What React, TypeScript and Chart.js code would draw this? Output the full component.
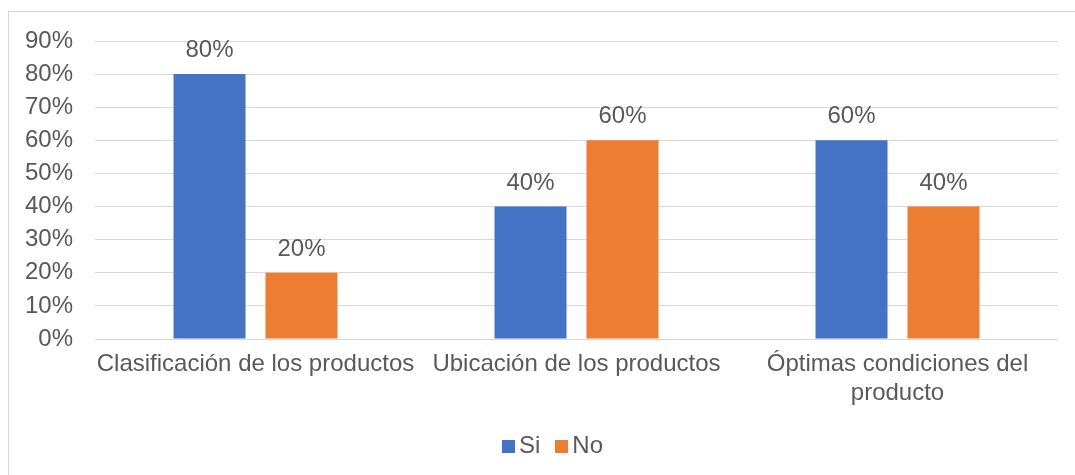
import React, { useEffect, useRef } from "react";
import { Chart, registerables } from "chart.js";

Chart.register(...registerables);

const categories: (string | string[])[] = [
  "Clasificación de los productos",
  "Ubicación de los productos",
  ["Óptimas condiciones del", "producto"],
];
const siValues = [80, 40, 60];
const noValues = [20, 60, 40];
const yTicks = [0, 10, 20, 30, 40, 50, 60, 70, 80, 90];

const FONT = "'Liberation Sans', Arial, sans-serif";
const TEXT = "#595959";
const GRID = "#d9d9d9";

// Writes each bar's percentage above it
const valueLabels = {
  id: "valueLabels",
  afterDatasetsDraw(chart: any) {
    const { ctx } = chart;
    ctx.save();
    ctx.font = `24px ${FONT}`;
    ctx.fillStyle = TEXT;
    ctx.textAlign = "center";
    ctx.textBaseline = "alphabetic";
    chart.data.datasets.forEach((ds: any, di: number) => {
      const meta = chart.getDatasetMeta(di);
      meta.data.forEach((el: any, i: number) => {
        ctx.fillText(`${ds.data[i]}%`, el.x, el.y - 17);
      });
    });
    ctx.restore();
  },
};

// Compact legend under the axis: square swatch, small gap, series name
const bottomLegend = {
  id: "bottomLegend",
  afterDraw(chart: any) {
    const { ctx } = chart;
    const box = 13;
    const gap = 4;
    const itemGap = 15;
    const centerX = chart.width / 2 + 15;
    const centerY = 446.5;
    ctx.save();
    ctx.font = `24px ${FONT}`;
    ctx.textBaseline = "middle";
    ctx.textAlign = "left";
    const items = chart.data.datasets.map((ds: any) => ({
      text: ds.label,
      color: ds.backgroundColor,
      w: ctx.measureText(ds.label).width,
    }));
    const total =
      items.reduce((s: number, it: any) => s + box + gap + it.w, 0) +
      itemGap * (items.length - 1);
    let x = centerX - total / 2;
    items.forEach((it: any) => {
      ctx.fillStyle = it.color;
      ctx.fillRect(Math.round(x), Math.round(centerY - box / 2), box, box);
      ctx.fillStyle = TEXT;
      ctx.fillText(it.text, x + box + gap, centerY);
      x += box + gap + it.w + itemGap;
    });
    ctx.restore();
  },
};

export default function App() {
  const ref = useRef<HTMLCanvasElement>(null);

  useEffect(() => {
    if (!ref.current) return;
    const chart = new Chart(ref.current, {
      type: "bar",
      data: {
        labels: categories,
        datasets: [
          {
            label: "Si",
            data: siValues,
            backgroundColor: "#4472C4",
            borderWidth: 0,
            categoryPercentage: 0.573,
            barPercentage: 0.783,
          },
          {
            label: "No",
            data: noValues,
            backgroundColor: "#ED7D31",
            borderWidth: 0,
            categoryPercentage: 0.573,
            barPercentage: 0.783,
          },
        ],
      },
      options: {
        responsive: false,
        animation: false,
        layout: { padding: { top: 41, right: 17, bottom: 8, left: 0 } },
        plugins: {
          legend: { display: false },
          tooltip: { enabled: false },
        },
        scales: {
          x: {
            grid: { display: false, drawTicks: false },
            border: { display: false },
            ticks: {
              color: TEXT,
              padding: 11,
              maxRotation: 0,
              autoSkip: false,
              font: { family: FONT, size: 24, lineHeight: 1.2 },
            },
            afterFit(scale: any) {
              scale.height = 128;
            },
          },
          y: {
            min: 0,
            max: 90,
            afterBuildTicks(scale: any) {
              scale.ticks = yTicks.map((v) => ({ value: v }));
            },
            grid: { color: GRID, lineWidth: 1, drawTicks: false },
            border: { display: false },
            ticks: {
              color: TEXT,
              padding: 22,
              font: { family: FONT, size: 24 },
              callback: (v: any) => `${v}%`,
            },
            afterFit(scale: any) {
              scale.width = 95;
            },
          },
        },
      },
      plugins: [valueLabels, bottomLegend],
    });
    return () => chart.destroy();
  }, []);

  return (
    <div
      style={{
        position: "fixed",
        left: 0,
        top: 0,
        width: 1075,
        height: 475,
        overflow: "hidden",
        background: "#fff",
      }}
    >
      <div
        style={{
          position: "absolute",
          left: 8,
          top: 11,
          width: 1100,
          height: 500,
          border: `1px solid ${GRID}`,
          boxSizing: "border-box",
        }}
      />
      <canvas
        ref={ref}
        width={1075}
        height={475}
        style={{ position: "absolute", left: 0, top: 0, display: "block" }}
      />
    </div>
  );
}
